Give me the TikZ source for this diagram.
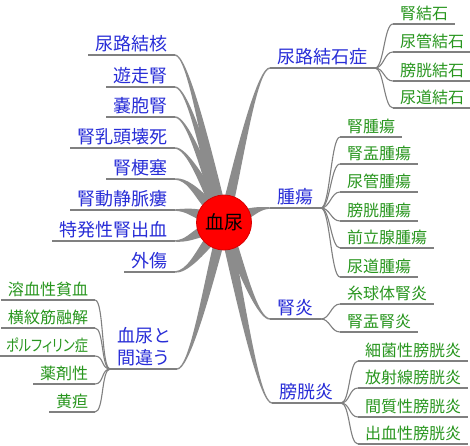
\documentclass[tikz,border=0pt]{standalone}
\usepackage{fontspec}
\usepackage{graphicx}
\setmainfont{Noto Sans CJK JP}[RawFeature={+palt}]
\usetikzlibrary{calc}
\pgfdeclarelayer{bg}
\pgfsetlayers{bg,main}
\definecolor{mmblue}{RGB}{40,45,215}
\definecolor{mmgreen}{RGB}{40,150,30}
\definecolor{mmline}{RGB}{128,128,128}
\definecolor{mmbranch}{RGB}{140,140,140}
\definecolor{mmred}{RGB}{255,0,0}
\definecolor{mmredline}{RGB}{215,0,0}
\tikzset{
  uline/.style={draw=mmline, line width=1.1pt},
  ul/.style={append after command={(\tikzlastnode.south west) edge[uline] (\tikzlastnode.south east)}},
  topic/.style={font=\fontsize{18}{22}\selectfont, text=mmblue, inner xsep=7.5pt, inner ysep=4.2pt, text depth=0pt, outer sep=0pt, ul},
  leaf/.style={font=\fontsize{16}{20}\selectfont, text=mmgreen, inner xsep=7pt, inner ysep=5pt, text depth=0pt, outer sep=0pt, ul},
  rootnode/.style={circle, fill=mmred, draw=mmredline, line width=0.8pt, minimum size=55pt, inner sep=0pt, font=\fontsize{19}{22}\selectfont, text=black},
  twig/.style={draw=mmline, line width=1.1pt},
}
% tapered branch: #1 from, #2 first control, #3 second control, #4 to
\newcommand\mmbranch[4]{%
  \path ($(#1)!25pt!(#2)$) coordinate (bS);
  \fill[mmbranch] ($(bS)!5pt!90:(#2)$) .. controls ($(#2)!4pt!90:(#3)$) and ($(#3)!1.5pt!90:(#4)$) .. ($(#4)!0.7pt!-90:(#3)$)
    -- ($(#4)!0.7pt!90:(#3)$) .. controls ($(#3)!1.5pt!-90:(#4)$) and ($(#2)!4pt!-90:(#3)$) .. ($(bS)!5pt!-90:(#2)$) -- cycle;
}
\newcommand\mmtwig[3]{\draw[twig] (#1) .. controls ($(#1)+(#3,0)$) and ($(#2)-(#3,0)$) .. (#2);}
\begin{document}
\begin{tikzpicture}[x=1pt,y=-1pt]
\begin{pgfonlayer}{bg}
\fill[white] (0,0) rectangle (470,445);
\end{pgfonlayer}
\useasboundingbox (0,0) rectangle (470,445);

\node[rootnode] (root) at (224,222.5) {血尿};

% left topics
\node[topic, anchor=south east] (l1) at (175,55) {尿路結核};
\node[topic, anchor=south east] (l2) at (175,87) {遊走腎};
\node[topic, anchor=south east] (l3) at (175,117) {嚢胞腎};
\node[topic, anchor=south east] (l4) at (175,148) {腎乳頭壊死};
\node[topic, anchor=south east] (l5) at (175,179) {腎梗塞};
\node[topic, anchor=south east] (l6) at (175,210) {腎動静脈瘻};
\node[topic, anchor=south east] (l7) at (175,241) {特発性腎出血};
\node[topic, anchor=south east] (l8) at (175,272) {外傷};
\node[topic, anchor=south east] (m) at (177,369) {\vbox{\baselineskip=22pt\hbox{血尿と}\hbox{間違う}}};

% right topics
\node[topic, anchor=south west] (r1) at (270,68) {尿路結石症};
\node[topic, anchor=south west] (r2) at (270,208) {腫瘍};
\node[topic, anchor=south west] (r3) at (270,319) {腎炎};
\node[topic, anchor=south west] (r4) at (272,403) {膀胱炎};

% leaves of r1
\node[leaf, anchor=south west] (a1) at (393,24) {腎結石};
\node[leaf, anchor=south west] (a2) at (393,52) {尿管結石};
\node[leaf, anchor=south west] (a3) at (393,81) {膀胱結石};
\node[leaf, anchor=south west] (a4) at (393,108) {尿道結石};
% leaves of r2
\node[leaf, anchor=south west] (b1) at (340,137) {腎腫瘍};
\node[leaf, anchor=south west] (b2) at (340,164) {腎盂腫瘍};
\node[leaf, anchor=south west] (b3) at (340,192) {尿管腫瘍};
\node[leaf, anchor=south west] (b4) at (340,221) {膀胱腫瘍};
\node[leaf, anchor=south west] (b5) at (340,248) {前立腺腫瘍};
\node[leaf, anchor=south west] (b6) at (340,277) {尿道腫瘍};
% leaves of r3
\node[leaf, anchor=south west] (c1) at (340,304) {糸球体腎炎};
\node[leaf, anchor=south west] (c2) at (340,332) {腎盂腎炎};
% leaves of r4
\node[leaf, anchor=south west] (d1) at (358,361) {細菌性膀胱炎};
\node[leaf, anchor=south west] (d2) at (358,388) {放射線膀胱炎};
\node[leaf, anchor=south west] (d3) at (358,417) {間質性膀胱炎};
\node[leaf, anchor=south west] (d4) at (358,444) {出血性膀胱炎};
% leaves of m
\node[leaf, anchor=south east] (e1) at (95,300) {溶血性貧血};
\node[leaf, anchor=south east] (e2) at (95,328) {横紋筋融解};
\node[leaf, anchor=south east] (e3) at (95,356) {\resizebox{82pt}{\height}{ポルフィリン症}};
\node[leaf, anchor=south east] (e4) at (95,384) {薬剤性};
\node[leaf, anchor=south east] (e5) at (95,412) {黄疸};

\begin{pgfonlayer}{bg}
\mmbranch{root.center}{204.5,138.5}{187,55}{l1.south east}
\mmbranch{root.center}{204.5,154.5}{187,87}{l2.south east}
\mmbranch{root.center}{204.5,169.5}{187,117}{l3.south east}
\mmbranch{root.center}{204.5,185}{187,148}{l4.south east}
\mmbranch{root.center}{196,191}{187,179}{l5.south east}
\mmbranch{root.center}{192,212}{186,210}{l6.south east}
\mmbranch{root.center}{192,236}{186,241}{l7.south east}
\mmbranch{root.center}{199.4,253.5}{187,272}{l8.south east}
\mmbranch{root.center}{205.5,295.5}{189,369}{m.south east}
\mmbranch{root.center}{242,145}{258,68}{r1.south west}
\mmbranch{root.center}{254,211}{260,208}{r2.south west}
\mmbranch{root.center}{242,270.5}{258,319}{r3.south west}
\mmbranch{root.center}{243,312.5}{260,403}{r4.south west}
\end{pgfonlayer}

\mmtwig{r1.south east}{a1.south west}{9}
\mmtwig{r1.south east}{a2.south west}{9}
\mmtwig{r1.south east}{a3.south west}{9}
\mmtwig{r1.south east}{a4.south west}{9}
\mmtwig{r2.south east}{b1.south west}{9}
\mmtwig{r2.south east}{b2.south west}{9}
\mmtwig{r2.south east}{b3.south west}{9}
\mmtwig{r2.south east}{b4.south west}{9}
\mmtwig{r2.south east}{b5.south west}{9}
\mmtwig{r2.south east}{b6.south west}{9}
\mmtwig{r3.south east}{c1.south west}{9}
\mmtwig{r3.south east}{c2.south west}{9}
\mmtwig{r4.south east}{d1.south west}{9}
\mmtwig{r4.south east}{d2.south west}{9}
\mmtwig{r4.south east}{d3.south west}{9}
\mmtwig{r4.south east}{d4.south west}{9}
\mmtwig{m.south west}{e1.south east}{-9}
\mmtwig{m.south west}{e2.south east}{-9}
\mmtwig{m.south west}{e3.south east}{-9}
\mmtwig{m.south west}{e4.south east}{-9}
\mmtwig{m.south west}{e5.south east}{-9}
\end{tikzpicture}
\end{document}
